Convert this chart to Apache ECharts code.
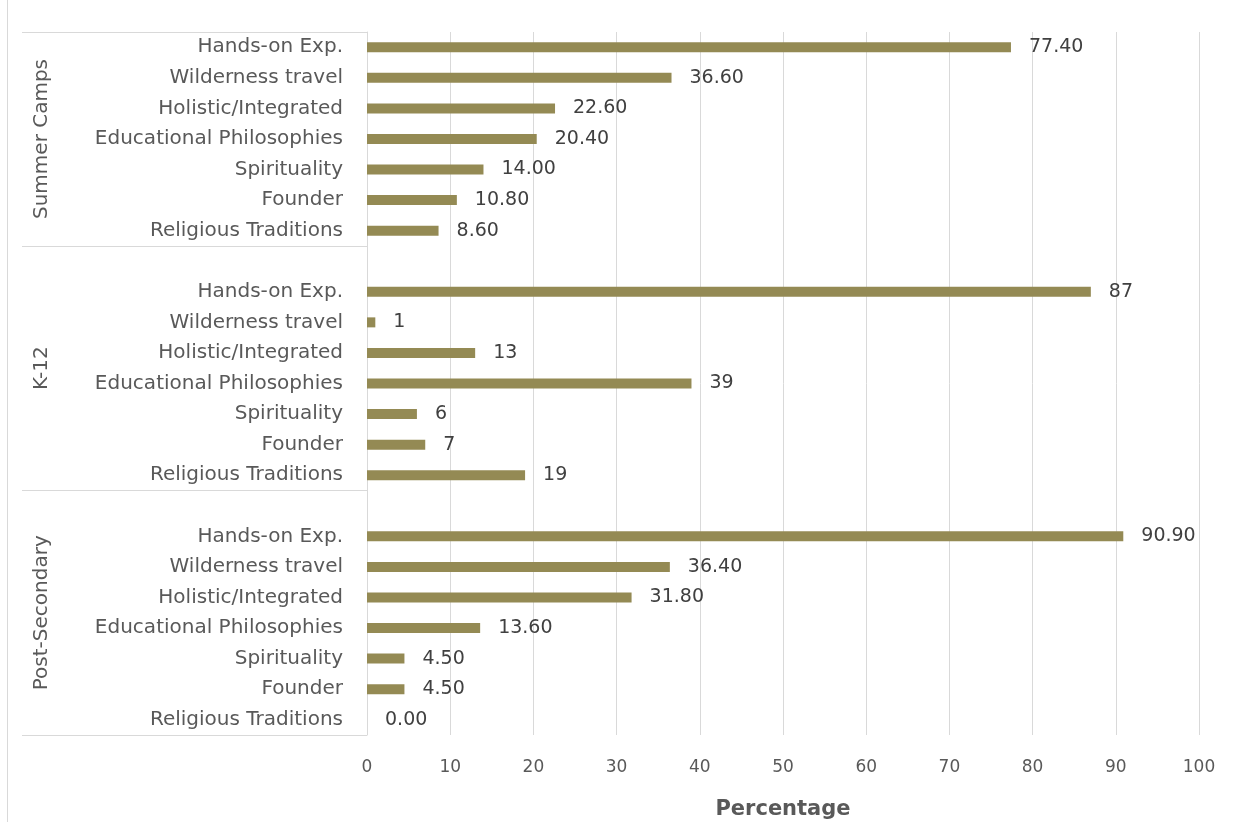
<!DOCTYPE html>
<html>
<head>
<meta charset="utf-8">
<script src="https://cdn.jsdelivr.net/npm/echarts@6/dist/echarts.min.js"></script>
<style>
  html, body { margin: 0; padding: 0; background: #ffffff; }
  #chart { width: 1247px; height: 822px; }
</style>
</head>
<body>
<div id="chart"></div>
<script>
// ---- data ----
var itemNames = ['Hands-on Exp.', 'Wilderness travel', 'Holistic/Integrated', 'Educational Philosophies', 'Spirituality', 'Founder', 'Religious Traditions'];
var groupNames = ['Summer Camps', 'K-12', 'Post-Secondary'];
var summerValues = [77.40, 36.60, 22.60, 20.40, 14.00, 10.80, 8.60];
var k12Values = [87, 1, 13, 39, 6, 7, 19];
var postValues = [90.90, 36.40, 31.80, 13.60, 4.50, 4.50, 0.00];
var labelDecimals = [2, 0, 2];
var xTicks = [0, 10, 20, 30, 40, 50, 60, 70, 80, 90, 100];

var FONT = 'DejaVu Sans';

// ---- build category axis: groups separated by one blank row ----
var categories = [];
var groupStart = [];
var groupEnd = [];
[summerValues, k12Values, postValues].forEach(function (vals, g) {
  if (g > 0) categories.push('');
  groupStart.push(g === 0 ? 0 : categories.length - 1);
  itemNames.forEach(function (n) { categories.push(n); });
  groupEnd.push(categories.length);
});

function seriesData(vals, g) {
  var arr = categories.map(function () { return null; });
  var offset = groupEnd[g] - itemNames.length;
  vals.forEach(function (v, i) { arr[offset + i] = v; });
  return arr;
}

var allValues = [summerValues, k12Values, postValues];
var series = allValues.map(function (vals, g) {
  return {
    type: 'bar',
    name: groupNames[g],
    data: seriesData(vals, g),
    barWidth: 10,
    barGap: '-100%',
    itemStyle: { color: '#948A54' },
    label: {
      show: true,
      position: 'right',
      distance: 18,
      color: '#404040',
      fontSize: 19,
      fontFamily: FONT,
      formatter: function (p) { return Number(p.value).toFixed(labelDecimals[g]); }
    },
    silent: true
  };
});

var chart = echarts.init(document.getElementById('chart'), null, { renderer: 'canvas' });
var option = {
  backgroundColor: '#ffffff',
  animation: false,
  textStyle: { fontFamily: FONT },
  grid: { left: 367, right: 48, top: 32, bottom: 87, containLabel: false, outerBoundsMode: 'none' },
  xAxis: {
    type: 'value',
    min: xTicks[0],
    max: xTicks[xTicks.length - 1],
    interval: xTicks[1] - xTicks[0],
    axisLine: { show: false },
    axisTick: { show: false },
    splitLine: { show: true, lineStyle: { color: '#d9d9d9', width: 1 } },
    axisLabel: { color: '#595959', fontSize: 17, margin: 24, fontFamily: FONT },
    name: 'Percentage',
    nameLocation: 'middle',
    nameGap: 64,
    nameTextStyle: { color: '#595959', fontSize: 21, fontWeight: 'bold', fontFamily: FONT }
  },
  yAxis: {
    type: 'category',
    inverse: true,
    data: categories,
    axisLine: { show: true, lineStyle: { color: '#d9d9d9', width: 1 } },
    axisTick: { show: false },
    splitLine: { show: false },
    axisLabel: { color: '#595959', fontSize: 20, margin: 24, interval: 0, fontFamily: FONT }
  },
  series: series
};
chart.setOption(option);

// ---- group brackets and group labels, positioned via the axis scale ----
function boundaryY(idx) {
  var c0 = chart.convertToPixel({ yAxisIndex: 0 }, 0);
  var c1 = chart.convertToPixel({ yAxisIndex: 0 }, 1);
  var bw = c1 - c0;
  return c0 + bw * idx - bw / 2;
}
var axisX = chart.convertToPixel({ xAxisIndex: 0 }, 0);
var bracketLeft = 22;
var graphics = [];
var bounds = [0, groupStart[1], groupStart[2], categories.length];
bounds.forEach(function (b) {
  var y = Math.round(boundaryY(b)) + 0.5;
  graphics.push({
    type: 'line', silent: true,
    shape: { x1: bracketLeft, y1: y, x2: axisX, y2: y },
    style: { stroke: '#d9d9d9', lineWidth: 1 }
  });
});
groupNames.forEach(function (name, g) {
  var yTop = boundaryY(bounds[g]);
  var yBot = boundaryY(bounds[g + 1]);
  graphics.push({
    type: 'text', silent: true,
    x: 42, y: (yTop + yBot) / 2,
    rotation: Math.PI / 2,
    style: {
      text: name, fill: '#595959', fontSize: 20, fontFamily: FONT,
      align: 'center', verticalAlign: 'middle'
    }
  });
});
// outer left frame line
graphics.push({
  type: 'line', silent: true,
  shape: { x1: 7.5, y1: 0, x2: 7.5, y2: 822 },
  style: { stroke: '#d9d9d9', lineWidth: 1 }
});
chart.setOption({ graphic: graphics });
</script>
</body>
</html>
